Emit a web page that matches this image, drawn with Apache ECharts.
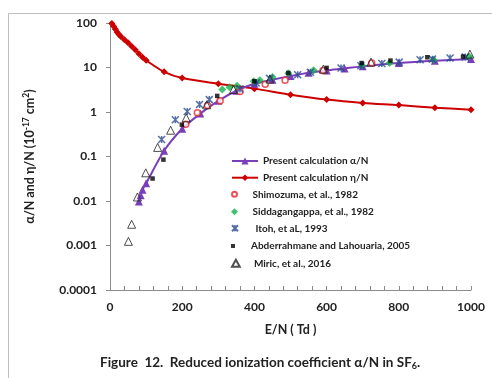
<!DOCTYPE html>
<html><head><meta charset="utf-8">
<script src="https://cdn.jsdelivr.net/npm/echarts@6/dist/echarts.min.js"></script>
<style>html,body{margin:0;padding:0;background:#fff}#c{width:492px;height:378px}</style>
</head><body><div id="c"></div>
<script>
// Present calculation eta/N
const etaE   = [5, 10, 15, 20, 25, 30, 40, 50, 60, 70, 80, 90, 100, 150, 200, 300, 400, 500, 600, 700, 800, 900, 1000];
const etaV   = [98, 85, 72, 62, 55, 50, 42, 36, 30, 25, 20.5, 17, 14.5, 8.0, 5.8, 4.3, 3.35, 2.45, 1.9, 1.6, 1.43, 1.25, 1.13];
// Present calculation alpha/N
const alphaE = [80, 85, 90, 100, 150, 200, 250, 300, 350, 400, 450, 500, 550, 600, 650, 700, 800, 900, 1000];
const alphaV = [0.0098, 0.0135, 0.018, 0.025, 0.135, 0.42, 0.92, 1.78, 3.0, 4.3, 5.3, 6.4, 7.6, 8.6, 9.5, 10.6, 12.6, 14.2, 15.5];
// Shimozuma, et al., 1982
const shimE  = [210, 242, 270, 305, 360, 430, 485, 590, 725];
const shimV  = [0.53, 0.96, 1.4, 1.8, 2.9, 4.2, 5.2, 8.6, 12.6];
// Siddagangappa, et al., 1982
const siddE  = [311, 331, 352, 398, 415, 450, 494, 564, 698, 774, 896, 995];
const siddV  = [3.2, 3.6, 3.9, 4.9, 5.2, 6.1, 7.4, 8.7, 11.2, 12.6, 15.0, 17.6];
// Itoh, et al., 1993
const itohE  = [143, 181, 214, 248, 275, 360, 405, 442, 520, 555, 640, 695, 753, 801, 859, 893, 942, 984];
const itohV  = [0.24, 0.67, 1.03, 1.48, 1.9, 3.3, 4.5, 5.7, 6.9, 7.8, 9.7, 11.0, 12.3, 13.2, 15.0, 15.4, 16.3, 17.2];
// Abderrahmane and Lahouaria, 2005
const abdE   = [118, 148, 199, 297, 400, 494, 600, 697, 777, 879, 978];
const abdV   = [0.032, 0.085, 0.52, 2.3, 4.9, 7.5, 9.8, 12.6, 14.3, 17.0, 17.6];
// Miric, et al., 2016
const miricE = [51, 60, 76, 99, 132, 168, 211, 268, 342, 443, 591, 723, 997];
const miricV = [0.00124, 0.003, 0.0123, 0.043, 0.16, 0.39, 0.74, 1.45, 3.2, 5.5, 9.2, 13.2, 20];

const yTickLabels = ['0.0001', '0.001', '0.01', '0.1', '1', '10', '100'];
const seriesNames = ['Present calculation α/N', 'Present calculation η/N', 'Shimozuma, et al., 1982',
  'Siddagangappa, et al., 1982', ' Itoh, et aL, 1993', 'Abderrahmane and Lahouaria, 2005', 'Miric, et al., 2016'];

const zip = (a, b) => a.map((x, i) => [x, b[i]]);
const F = 'Lato';
const axisCol = '#8c8c8c';
const starPath = 'path://M0,0L10,10M10,0L0,10M5,0L5,10';
const diamondPath = 'path://M5,0L10,5L5,10L0,5Z';
const triPath = 'path://M5,0L10,9L0,9Z';
const rectPath = 'path://M0,0L10,0L10,10L0,10Z';
const circlePath = 'path://M5,0A5,5 0 1 1 5,10A5,5 0 1 1 5,0Z';

// legend rows (one legend component per row for per-item icon sizes)
const legendIcons = [null, null, circlePath, diamondPath, starPath, rectPath, triPath];
const legendIconH = [9, 8, 5, 7, 6, 4, 7];
const legendRowY = [161, 177.7, 194.3, 211.7, 228.3, 246, 263.3];
const legends = seriesNames.map((n, i) => ({
  data: [legendIcons[i] ? {name: n, icon: legendIcons[i]} : n],
  orient: 'vertical', left: 231, top: legendRowY[i] - 6, padding: 0,
  itemWidth: 26, itemHeight: legendIconH[i], selectedMode: false, symbolKeepAspect: true,
  textStyle: {fontFamily: F, fontSize: 10, fontWeight: 'bold', color: '#222', lineHeight: 12}
}));

const chart = echarts.init(document.getElementById('c'), null, {renderer: 'canvas'});
chart.setOption({
  animation: false,
  backgroundColor: '#fff',
  textStyle: {fontFamily: F},
  graphic: [{type: 'rect', shape: {x: 8.5, y: 13.5, width: 700, height: 600},
    style: {fill: 'none', stroke: '#bfbfbf', lineWidth: 1}, z: -10}],
  title: {
    text: 'Figure  12.  Reduced ionization coefficient α/N in SF{sub|6}.',
    left: 95, top: 349,
    textStyle: {fontFamily: F, fontSize: 13.5, fontWeight: 'bold', color: '#222',
      rich: {sub: {fontFamily: F, fontSize: 9, fontWeight: 'bold', color: '#222', padding: [8, 0, 0, 0]}}}
  },
  grid: {left: 110, right: 21, top: 23, bottom: 88},
  legend: legends,
  xAxis: {
    type: 'value', min: 0, max: 1000, interval: 200,
    name: 'E/N ( Td )', nameLocation: 'middle', nameGap: 33,
    nameTextStyle: {fontFamily: F, fontSize: 12.5, fontWeight: 'bold', color: '#222'},
    axisLine: {lineStyle: {color: axisCol, width: 1}},
    axisTick: {inside: true, length: 4, lineStyle: {color: axisCol}},
    minorTick: {show: true, splitNumber: 5, length: 4, lineStyle: {color: axisCol}},
    splitLine: {show: false},
    axisLabel: {fontFamily: F, fontSize: 12, fontWeight: 'bold', color: '#222', margin: 11,
      formatter: v => String(v)}
  },
  yAxis: {
    type: 'log', logBase: 10, min: 0.0001, max: 100, interval: 1,
    name: 'α/N and η/N (10{sup|-17} cm{sup|2})', nameLocation: 'middle', nameRotate: 90, nameGap: 73,
    nameTextStyle: {fontFamily: F, fontSize: 12.5, fontWeight: 'bold', color: '#222',
      rich: {sup: {fontFamily: F, fontSize: 8.5, fontWeight: 'bold', color: '#222', padding: [0, 0, 6, 0]}}},
    axisLine: {show: true, lineStyle: {color: axisCol, width: 1}},
    axisTick: {show: true, inside: false, length: 4, lineStyle: {color: axisCol}},
    splitLine: {show: false},
    axisLabel: {fontFamily: F, fontSize: 12, fontWeight: 'bold', color: '#222', margin: 13,
      formatter: (v, i) => yTickLabels[i] !== undefined ? yTickLabels[i] : ''}
  },
  series: [
    {name: seriesNames[0], type: 'line', data: zip(alphaE, alphaV), smooth: 0.3,
      symbol: 'triangle', symbolSize: 8, lineStyle: {color: '#7a3fb8', width: 2},
      itemStyle: {color: '#7a3fb8'}, z: 3},
    {name: seriesNames[1], type: 'line', data: zip(etaE, etaV), smooth: 0.3,
      symbol: 'diamond', symbolSize: 7, lineStyle: {color: '#cc0000', width: 2},
      itemStyle: {color: '#cc0000'}, z: 2},
    {name: seriesNames[2], type: 'scatter', data: zip(shimE, shimV), symbol: 'circle', symbolSize: 6,
      itemStyle: {color: '#fff', borderColor: '#e8262a', borderWidth: 1.5}, z: 4},
    {name: seriesNames[3], type: 'scatter', data: zip(siddE, siddV), symbol: 'diamond', symbolSize: 8,
      itemStyle: {color: '#13b24a'}, z: 4},
    {name: seriesNames[4], type: 'scatter', data: zip(itohE, itohV),
      symbol: starPath, symbolSize: 7,
      itemStyle: {color: 'rgba(0,0,0,0)', borderColor: '#2b4a8f', borderWidth: 1.5}, z: 4},
    {name: seriesNames[5], type: 'scatter', data: zip(abdE, abdV), symbol: 'rect', symbolSize: 4.5,
      itemStyle: {color: '#000'}, z: 5},
    {name: seriesNames[6], type: 'scatter', data: zip(miricE, miricV), symbol: 'triangle', symbolSize: 8,
      itemStyle: {color: 'rgba(255,255,255,0)', borderColor: '#222', borderWidth: 1}, z: 5}
  ]
});
</script></body></html>
